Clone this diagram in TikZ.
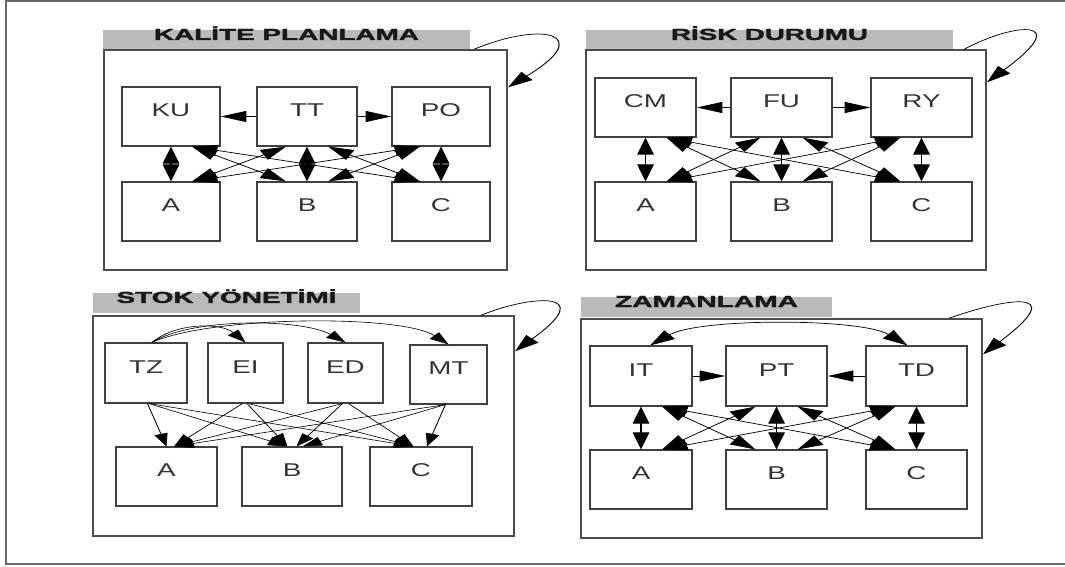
\documentclass[tikz,border=0pt]{standalone}
\usepackage{fontspec}
\setmainfont{Liberation Sans}
\newfontfamily\ttlfont[FakeBold=1.5]{Liberation Sans Bold}
\usepackage{graphicx}
\usetikzlibrary{arrows.meta,fit}
\tikzset{
  box/.style={draw=black!75, line width=1.1pt, inner sep=0pt, fill=white,
    font=\fontsize{18.5}{18.5}\selectfont, text=black!80, text height=13.2pt, text depth=0pt},
  panel/.style={draw=black!70, line width=1.4pt, inner sep=0pt},
  tbar/.style={fill=black!27, inner sep=0pt, font=\ttlfont\fontsize{16}{16}\selectfont,
    text=black!90, text height=11.4pt, text depth=0pt},
  dbl/.style={{Triangle[length=17pt,width=11pt]}-{Triangle[length=17pt,width=11pt]}, line width=0.7pt},
  one/.style={-{Triangle[length=17pt,width=11pt]}, line width=0.7pt},
  sm/.style={-{Triangle[length=13pt,width=9pt]}, line width=0.6pt},
  framel/.style={draw=black!60, line width=2pt},
}
\newcommand{\dblgrid}[1]{%
  \foreach \ia in {1,2,3}{\foreach \ib in {1,2,3}{%
    \pgfmathsetmacro\dx{14*sign(\ib-\ia)}%
    \draw[dbl] ([xshift=\dx pt]#1t\ia.south) -- ([xshift=-\dx pt]#1b\ib.north);}}}
\begin{document}
\begin{tikzpicture}[x=1pt,y=-1pt]
\useasboundingbox (0,0) rectangle (1065,567);
\coordinate (fa) at (1065,1);
\coordinate (fb) at (6,1);
\coordinate (fc) at (6,564);
\coordinate (fd) at (1065,564);
\draw[framel] (fa) -- (fb) -- (fc) -- (fd);
\begin{scope}[transform canvas={xscale=1.5}, x=0.666667pt, y=-1pt]
% ---------------- Panel 1
\node[tbar, fit={(103,30)(470,50)}] (P1title) {\resizebox{176.7pt}{\height}{KALİTE PLANLAMA}};
\node[panel, fit={(104,50)(507,270)}] (P1) {};
\node[box, fit={(122,87)(220,146)}] (P1t1) {KU};
\node[box, fit={(257,87)(357,146)}] (P1t2) {TT};
\node[box, fit={(392,87)(490,146)}] (P1t3) {PO};
\node[box, fit={(122,182)(220,241)}] (P1b1) {A};
\node[box, fit={(257,182)(357,241)}] (P1b2) {B};
\node[box, fit={(392,182)(490,241)}] (P1b3) {C};
\draw[one] (P1t2) -- (P1t1);
\draw[one] (P1t2) -- (P1t3);
\dblgrid{P1}
\draw[one] ([xshift=-22.7pt]P1.north east) .. controls (545,20) and (595,35) .. ([yshift=-38pt]P1.north east);
% ---------------- Panel 2
\node[tbar, fit={(586,30)(953,50)}] (P2title) {\resizebox{131.3pt}{\height}{RİSK DURUMU}};
\node[panel, fit={(586,50)(986,270)}] (P2) {};
\node[box, fit={(595,78)(696,137)}] (P2t1) {CM};
\node[box, fit={(731,78)(832,137)}] (P2t2) {FU};
\node[box, fit={(871,78)(972,137)}] (P2t3) {RY};
\node[box, fit={(595,182)(696,241)}] (P2b1) {A};
\node[box, fit={(731,182)(832,241)}] (P2b2) {B};
\node[box, fit={(871,182)(972,241)}] (P2b3) {C};
\draw[one] (P2t2) -- (P2t1);
\draw[one] (P2t2) -- (P2t3);
\dblgrid{P2}
\draw[one] ([xshift=-15.3pt]P2.north east) .. controls (1015,22) and (1075,18) .. ([yshift=-33pt]P2.north east);
% ---------------- Panel 3
\node[tbar, fit={(93,293)(360,313)}] (P3title) {\resizebox{146.7pt}{\height}{STOK YÖNETİMİ}};
\node[panel, fit={(93,316)(514,536)}] (P3) {};
\node[box, fit={(105,343)(187,403)}] (P3t1) {TZ};
\node[box, fit={(208,343)(283,403)}] (P3t2) {EI};
\node[box, fit={(308,343)(383,403)}] (P3t3) {ED};
\node[box, fit={(410,345)(487,404)}] (P3t4) {MT};
\node[box, fit={(116,447)(217,506)}] (P3b1) {A};
\node[box, fit={(242,447)(342,506)}] (P3b2) {B};
\node[box, fit={(370,447)(472,506)}] (P3b3) {C};
\foreach \ia/\ib/\oa/\ob in {1/1/1/0, 1/2/2/-3, 1/3/2/-5, 2/1/-2/5, 2/2/1/-3, 2/3/2/-5,
  3/1/-2/5, 3/2/-2/3, 3/3/2/-5, 4/1/-2/5, 4/2/-2/7, 4/3/-2/4}{
  \draw[sm] ([xshift=\oa pt]P3t\ia.south) -- ([xshift=\ob pt]P3b\ib.north);
}
\draw[sm] ([xshift=4pt]P3t1.north) .. controls (175,323) and (220,322) .. (P3t2.north);
\draw[sm] ([xshift=4pt]P3t1.north) .. controls (190,318) and (300,318) .. (P3t3.north);
\draw[sm] ([xshift=4pt]P3t1.north) .. controls (210,316) and (400,314) .. (P3t4.north);
\draw[one] ([xshift=-22.7pt]P3.north east) .. controls (530,295) and (600,290) .. ([yshift=-36pt]P3.north east);
% ---------------- Panel 4
\node[tbar, fit={(581,297)(832,317)}] (P4title) {\resizebox{122pt}{\height}{ZAMANLAMA}};
\node[panel, fit={(581,319)(982,538)}] (P4) {};
\node[box, fit={(590,346)(692,406)}] (P4t1) {IT};
\node[box, fit={(726,346)(827,406)}] (P4t2) {PT};
\node[box, fit={(866,346)(967,406)}] (P4t3) {TD};
\node[box, fit={(590,450)(692,509)}] (P4b1) {A};
\node[box, fit={(726,450)(827,509)}] (P4b2) {B};
\node[box, fit={(866,450)(967,509)}] (P4b3) {C};
\draw[one] (P4t1) -- (P4t2);
\draw[one] (P4t3) -- (P4t2);
\dblgrid{P4}
\draw[dbl] ([xshift=6pt]P4t1.north) .. controls (700,318) and (860,318) .. ([xshift=-6pt]P4t3.north);
\draw[one] ([xshift=-22.7pt]P4.north east) .. controls (1000,300) and (1075,285) .. ([yshift=-36pt]P4.north east);
\end{scope}
\end{tikzpicture}
\end{document}
